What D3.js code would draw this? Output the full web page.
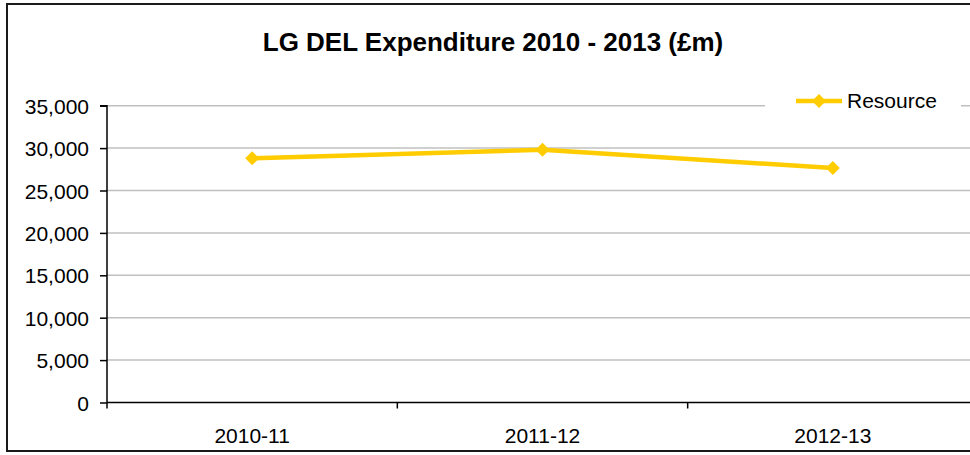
<!DOCTYPE html>
<html>
<head>
<meta charset="utf-8">
<script src="https://cdn.jsdelivr.net/npm/d3@7"></script>
<style>
  body { margin: 0; background: #fff; }
  text { font-family: Arial, "Liberation Sans", sans-serif; fill: #000; }
</style>
</head>
<body>
<script>
// chart data
var categories = ["2010-11", "2011-12", "2012-13"];
var resource = [28800, 29800, 27650];
var yTicks = [0, 5000, 10000, 15000, 20000, 25000, 30000, 35000];
var seriesName = "Resource";
var title = "LG DEL Expenditure 2010 - 2013 (\u00a3m)";

var svgW = 970, svgH = 455;
var plot = {left: 107, right: 978, top: 105.7, bottom: 402.5};
var gold = "#FFCC00";

var svg = d3.select("body").append("svg").attr("width", svgW).attr("height", svgH);

// outer frame (right side runs off the picture)
svg.append("rect").attr("x", 7).attr("y", 4).attr("width", 1000).attr("height", 447)
	.attr("fill", "#fff").attr("stroke", "#1a1a1a").attr("stroke-width", 2);

svg.append("text").attr("x", 493).attr("y", 51).attr("text-anchor", "middle")
	.style("font-size", "26px").style("font-weight", "bold").text(title);

var x = d3.scaleBand().domain(categories).range([plot.left, plot.right]);
var y = d3.scaleLinear().domain([0, 35000]).range([plot.bottom, plot.top]);

// gridlines
svg.append("g").selectAll("line").data(yTicks.filter(function(d){ return d > 0; })).enter().append("line")
	.attr("x1", plot.left).attr("x2", plot.right)
	.attr("y1", function(d){ return y(d); }).attr("y2", function(d){ return y(d); })
	.attr("stroke", "#c0c0c0").attr("stroke-width", 1.5);

// y axis
var yAxis = svg.append("g").attr("transform", "translate(" + plot.left + ",0)")
	.call(d3.axisLeft(y).tickValues(yTicks).tickSize(7).tickPadding(11).tickFormat(d3.format(",")));
yAxis.selectAll("text").style("font-size", "21px").attr("dy", "0.36em");
yAxis.selectAll("line, path").attr("stroke", "#000").attr("stroke-width", 1.5);
yAxis.select(".domain").attr("d", "M-7," + y(35000) + "H0V" + y(0));

// x axis
svg.append("line").attr("x1", plot.left).attr("x2", plot.right)
	.attr("y1", y(0)).attr("y2", y(0)).attr("stroke", "#000").attr("stroke-width", 1.5);
var edges = categories.map(function(c){ return x(c); }).concat([plot.right]);
svg.append("g").selectAll("line").data(edges).enter().append("line")
	.attr("x1", function(d){ return d; }).attr("x2", function(d){ return d; })
	.attr("y1", y(0)).attr("y2", y(0) + 6).attr("stroke", "#000").attr("stroke-width", 1.5);
svg.append("g").selectAll("text").data(categories).enter().append("text")
	.attr("x", function(d){ return x(d) + x.bandwidth() / 2; }).attr("y", 443)
	.attr("text-anchor", "middle").style("font-size", "21px").text(function(d){ return d; });

// series
var pts = categories.map(function(c, i){ return [x(c) + x.bandwidth() / 2, y(resource[i])]; });
svg.append("path").attr("d", d3.line()(pts)).attr("fill", "none")
	.attr("stroke", gold).attr("stroke-width", 4.5).attr("stroke-linejoin", "round");
function diamond(cx, cy, r){
	return "M" + cx + "," + (cy - r) + "L" + (cx + r) + "," + cy + "L" + cx + "," + (cy + r) + "L" + (cx - r) + "," + cy + "Z";
}
svg.append("g").selectAll("path").data(pts).enter().append("path")
	.attr("d", function(d){ return diamond(d[0], d[1], 7); }).attr("fill", gold);

// legend
var lg = svg.append("g");
lg.append("rect").attr("x", 765).attr("y", 90).attr("width", 196).attr("height", 24).attr("fill", "#fff");
lg.append("line").attr("x1", 796).attr("x2", 842).attr("y1", 101).attr("y2", 101)
	.attr("stroke", gold).attr("stroke-width", 4.5);
lg.append("path").attr("d", diamond(819, 101, 7)).attr("fill", gold);
lg.append("text").attr("x", 847).attr("y", 108).style("font-size", "21px").text(seriesName);
</script>
</body>
</html>
